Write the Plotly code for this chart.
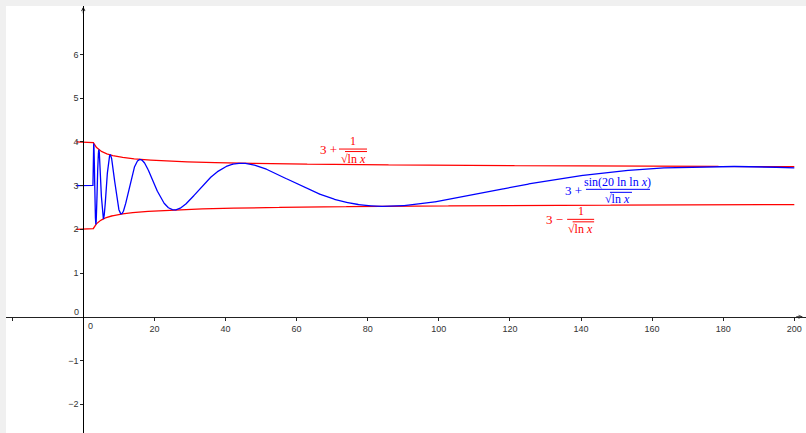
import numpy as np
import plotly.graph_objects as go

# ---------------- data ----------------
X_TICKS = [-20, 20, 40, 60, 80, 100, 120, 140, 160, 180, 200]
X_TICK_TEXT = ['', '20', '40', '60', '80', '100', '120', '140', '160', '180', '200']
Y_TICKS = [-2, -1, 1, 2, 3, 4, 5, 6]
Y_TICK_TEXT = ['\u22122', '\u22121', '1', '2', '3', '4', '5', '6']
DOMAIN = [-2, 200]            # plotted x-interval of the functions
LEFT_LEVELS = [4, 3, 2]       # constant values for x < e (upper, middle, lower)
CENTER = 3
X_RANGE = [-21.74, 203.29]
Y_RANGE = [-2.66, 7.11]

RED = '#ff0000'
BLUE = '#0000ff'

# sample the functions shown in the labels
e = np.e
x_left = np.array([DOMAIN[0], e])
x_right = e + np.geomspace(1e-9, DOMAIN[1] - e, 40000)
lnx = np.log(x_right)
x_all = np.concatenate([x_left, x_right])
upper = np.concatenate([[LEFT_LEVELS[0]] * 2, CENTER + 1 / np.sqrt(lnx)])
lower = np.concatenate([[LEFT_LEVELS[2]] * 2, CENTER - 1 / np.sqrt(lnx)])
wave = np.concatenate([[LEFT_LEVELS[1]] * 2, CENTER + np.sin(20 * np.log(lnx)) / np.sqrt(lnx)])

fig = go.Figure()
fig.add_trace(go.Scatter(x=x_all, y=upper, mode='lines', line=dict(color=RED, width=1.3), hoverinfo='skip'))
fig.add_trace(go.Scatter(x=x_all, y=lower, mode='lines', line=dict(color=RED, width=1.3), hoverinfo='skip'))
fig.add_trace(go.Scatter(x=x_all, y=wave, mode='lines', line=dict(color=BLUE, width=1.3), hoverinfo='skip'))

# ---------------- axes ----------------
xpos = (0 - Y_RANGE[0]) / (Y_RANGE[1] - Y_RANGE[0])
ypos = (0 - X_RANGE[0]) / (X_RANGE[1] - X_RANGE[0])
tickfont = dict(family='Liberation Sans, Arial, sans-serif', size=9, color='#333333')

fig.update_layout(
    width=806, height=433,
    margin=dict(l=6, r=0, t=6, b=0, pad=0),
    paper_bgcolor='#f0f0f0', plot_bgcolor='#ffffff',
    showlegend=False,
    xaxis=dict(range=X_RANGE, anchor='free', position=xpos, showgrid=False, zeroline=False,
               showline=True, linecolor='#222222', linewidth=1,
               ticks='outside', ticklen=3, tickcolor='#222222', tickwidth=1,
               tickvals=X_TICKS, ticktext=X_TICK_TEXT, tickfont=tickfont, automargin=False,
               fixedrange=True),
    yaxis=dict(range=Y_RANGE, anchor='free', position=ypos, showgrid=False, zeroline=False,
               showline=True, linecolor='#000000', linewidth=1,
               ticks='outside', ticklen=3, tickcolor='#222222', tickwidth=1,
               tickvals=Y_TICKS, ticktext=Y_TICK_TEXT, tickfont=tickfont, automargin=False,
               fixedrange=True),
)

annotations = []
shapes = []

# origin labels
annotations.append(dict(x=0, y=0, text='0', showarrow=False, xshift=7, yshift=-9,
                        font=tickfont, xanchor='center', yanchor='middle'))
annotations.append(dict(x=0, y=0, text='0', showarrow=False, xshift=-7, yshift=5,
                        font=tickfont, xanchor='center', yanchor='middle'))

# axis arrows
annotations.append(dict(x=X_RANGE[1] - 0.9, y=0, ax=-8, ay=0, text='', showarrow=True,
                        arrowhead=5, arrowsize=0.7, arrowwidth=1, arrowcolor='#222222'))
annotations.append(dict(x=0, y=Y_RANGE[1] - 0.02, ax=0, ay=8, text='', showarrow=True,
                        arrowhead=5, arrowsize=0.7, arrowwidth=1, arrowcolor='#000000'))

mathfont = 'Liberation Serif, DejaVu Serif, serif'


def add_label(ax_x, ax_y, color, parts, lines):
    for txt, dx, dy, size in parts:
        annotations.append(dict(x=ax_x, y=ax_y, text=txt, showarrow=False, xshift=dx, yshift=-dy,
                                xanchor='center', yanchor='middle',
                                font=dict(family=mathfont, size=size, color=color)))
    for x0, x1, dy in lines:
        shapes.append(dict(type='line', xref='x', yref='y', xsizemode='pixel', ysizemode='pixel',
                           xanchor=ax_x, yanchor=ax_y, x0=x0, x1=x1, y0=-dy, y1=-dy,
                           line=dict(color=color, width=1)))


# 3 + 1/sqrt(ln x)
add_label(75.87, 3.837, RED,
          [('3 +', -25, 0.5, 13), ('1', 0, -8, 12), ('\u221aln <i>x</i>', 0, 9.5, 12)],
          [(-14, 14, 0), (-8, 14, 2.5)])
# 3 + sin(20 ln ln x)/sqrt(ln x)
add_label(150.4, 2.915, BLUE,
          [('3 +', -44.5, 1, 13), ('sin(20 ln ln <i>x</i>)', 0, -7, 12), ('\u221aln <i>x</i>', 0, 9.5, 12)],
          [(-32, 32, 0), (-8, 14, 3)])
# 3 - 1/sqrt(ln x)
add_label(139.9, 2.229, RED,
          [('3 \u2212', -26, 0, 13), ('1', 0, -8, 12), ('\u221aln <i>x</i>', 0, 9.5, 12)],
          [(-13.5, 13.5, 0), (-8, 13.5, 2.5)])

fig.update_layout(annotations=annotations, shapes=shapes)
fig.write_html('out.html', config={'displayModeBar': False},
               post_script="document.body.style.margin='0';document.body.style.overflow='hidden';")
